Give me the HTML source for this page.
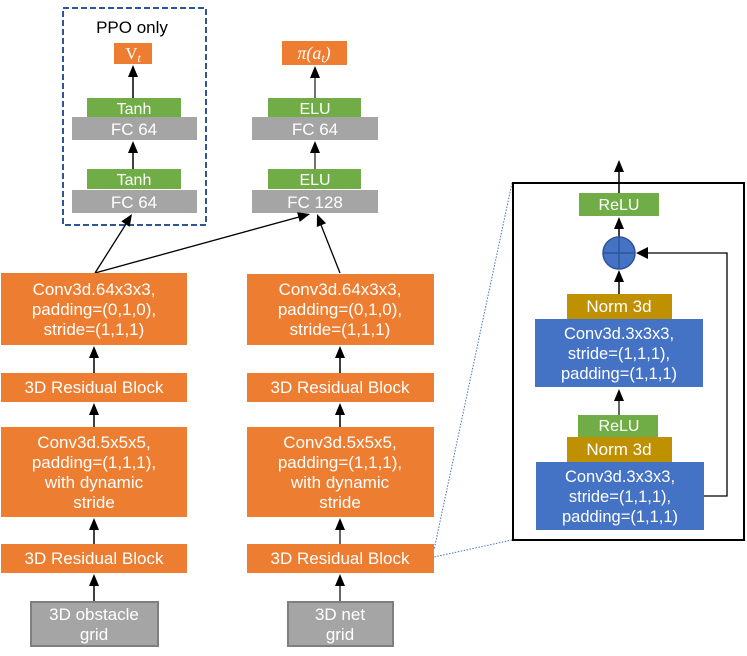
<!DOCTYPE html>
<html><head><meta charset="utf-8"><style>
html,body{margin:0;padding:0;background:#fff;}
svg{display:block;}
text{font-family:"Liberation Sans","DejaVu Sans",sans-serif;fill:#fff;text-anchor:middle;}
</style></head><body>
<svg width="747" height="656" viewBox="0 0 747 656" xmlns="http://www.w3.org/2000/svg">

<!-- dashed PPO box -->
<rect x="63" y="8" width="143" height="217" fill="none" stroke="#2f5597" stroke-width="2" stroke-dasharray="6,3"/>
<text x="132" y="33" style="fill:#000;font-size:17px">PPO only</text>

<!-- Vt -->
<rect x="114" y="43" width="38" height="21" fill="#ed7d31"/>
<text x="133" y="59" style="font-size:17px;font-family:'Liberation Serif',serif">V<tspan font-style="italic" font-size="12" dy="3">t</tspan></text>
<line x1="133" y1="98" x2="133" y2="75" stroke="#000" stroke-width="1.5"/>
<polygon points="133,65 128,77 138,77" fill="#000"/>
<rect x="87" y="98" width="94" height="19" fill="#70ad47"/>
<text x="134" y="114" style="font-size:16px">Tanh</text>
<rect x="72" y="117" width="125" height="23" fill="#a5a5a5"/>
<text x="134" y="135" style="font-size:17px">FC 64</text>
<line x1="133" y1="169" x2="133" y2="150" stroke="#000" stroke-width="1.5"/>
<polygon points="133,141 128,153 138,153" fill="#000"/>
<rect x="87" y="169" width="94" height="20" fill="#70ad47"/>
<text x="134" y="185" style="font-size:16px">Tanh</text>
<rect x="72" y="190" width="125" height="23" fill="#a5a5a5"/>
<text x="134" y="208" style="font-size:17px">FC 64</text>

<!-- pi -->
<rect x="282" y="41" width="65" height="24" fill="#ed7d31"/>
<text x="314" y="59" style="font-size:18px;font-family:'Liberation Serif',serif;font-style:italic">π(a<tspan font-size="12" dy="3">t</tspan><tspan dy="-3">)</tspan></text>
<line x1="315" y1="98" x2="315" y2="75" stroke="#444" stroke-width="1.5"/>
<polygon points="315,66 310,78 320,78" fill="#000"/>
<rect x="268" y="98" width="93" height="19" fill="#70ad47"/>
<text x="315" y="114" style="font-size:16px">ELU</text>
<rect x="252" y="117" width="126" height="23" fill="#a5a5a5"/>
<text x="315" y="135" style="font-size:17px">FC 64</text>
<line x1="315" y1="169" x2="315" y2="150" stroke="#444" stroke-width="1.5"/>
<polygon points="315,141 310,153 320,153" fill="#000"/>
<rect x="268" y="169" width="93" height="20" fill="#70ad47"/>
<text x="315" y="185" style="font-size:16px">ELU</text>
<rect x="252" y="190" width="126" height="23" fill="#a5a5a5"/>
<text x="315" y="208" style="font-size:17px">FC 128</text>

<!-- connectors from conv to FC -->
<line x1="95" y1="273" x2="126" y2="224" stroke="#000" stroke-width="1.3"/>
<polygon points="132,214 129.7,226.8 121.3,221.4" fill="#000"/>
<line x1="95" y1="273" x2="299" y2="217" stroke="#000" stroke-width="1.3"/>
<polygon points="310,214 299.7,221.9 297.1,212.3" fill="#000"/>
<line x1="340" y1="273" x2="321" y2="225" stroke="#000" stroke-width="1.3"/>
<polygon points="317,214 326.1,223.3 316.8,227" fill="#000"/>

<!-- left column -->
<g>
<rect x="1" y="273" width="186" height="72" fill="#ed7d31"/>
<text x="94" y="295" style="font-size:17px">Conv3d.64x3x3,</text>
<text x="94" y="315" style="font-size:17px">padding=(0,1,0),</text>
<text x="94" y="335" style="font-size:17px">stride=(1,1,1)</text>
<line x1="94" y1="373" x2="94" y2="355" stroke="#000" stroke-width="1.5"/>
<polygon points="94,346 89,358 99,358" fill="#000"/>
<rect x="1" y="373" width="186" height="29" fill="#ed7d31"/>
<text x="94" y="393" style="font-size:17px">3D Residual Block</text>
<line x1="94" y1="427" x2="94" y2="412" stroke="#000" stroke-width="1.5"/>
<polygon points="94,403 89,415 99,415" fill="#000"/>
<rect x="1" y="427" width="186" height="90" fill="#ed7d31"/>
<text x="94" y="448" style="font-size:17px">Conv3d.5x5x5,</text>
<text x="94" y="468" style="font-size:17px">padding=(1,1,1),</text>
<text x="94" y="488" style="font-size:17px">with dynamic</text>
<text x="94" y="508" style="font-size:17px">stride</text>
<line x1="94" y1="544" x2="94" y2="527" stroke="#000" stroke-width="1.5"/>
<polygon points="94,518 89,530 99,530" fill="#000"/>
<rect x="1" y="544" width="186" height="29" fill="#ed7d31"/>
<text x="94" y="564" style="font-size:17px">3D Residual Block</text>
<line x1="94" y1="601" x2="94" y2="583" stroke="#000" stroke-width="1.5"/>
<polygon points="94,574 89,586 99,586" fill="#000"/>
<rect x="31" y="602" width="127" height="44" fill="#a5a5a5" stroke="#7f7f7f" stroke-width="2"/>
<text x="94" y="620" style="font-size:17px">3D obstacle</text>
<text x="94" y="640" style="font-size:17px">grid</text>
</g>

<!-- right column -->
<g>
<rect x="247" y="274" width="187" height="71" fill="#ed7d31"/>
<text x="340" y="295" style="font-size:17px">Conv3d.64x3x3,</text>
<text x="340" y="315" style="font-size:17px">padding=(0,1,0),</text>
<text x="340" y="335" style="font-size:17px">stride=(1,1,1)</text>
<line x1="340" y1="373" x2="340" y2="355" stroke="#000" stroke-width="1.5"/>
<polygon points="340,346 335,358 345,358" fill="#000"/>
<rect x="247" y="373" width="187" height="29" fill="#ed7d31"/>
<text x="340" y="393" style="font-size:17px">3D Residual Block</text>
<line x1="340" y1="427" x2="340" y2="412" stroke="#000" stroke-width="1.5"/>
<polygon points="340,403 335,415 345,415" fill="#000"/>
<rect x="247" y="427" width="187" height="90" fill="#ed7d31"/>
<text x="340" y="448" style="font-size:17px">Conv3d.5x5x5,</text>
<text x="340" y="468" style="font-size:17px">padding=(1,1,1),</text>
<text x="340" y="488" style="font-size:17px">with dynamic</text>
<text x="340" y="508" style="font-size:17px">stride</text>
<line x1="340" y1="544" x2="340" y2="527" stroke="#333" stroke-width="1.5"/>
<polygon points="340,518 335,530 345,530" fill="#000"/>
<rect x="247" y="544" width="187" height="29" fill="#ed7d31"/>
<text x="340" y="564" style="font-size:17px">3D Residual Block</text>
<line x1="340" y1="601" x2="340" y2="583" stroke="#333" stroke-width="1.5"/>
<polygon points="340,574 335,586 345,586" fill="#000"/>
<rect x="288" y="602" width="105" height="44" fill="#a5a5a5" stroke="#7f7f7f" stroke-width="2"/>
<text x="340" y="620" style="font-size:17px">3D net</text>
<text x="340" y="640" style="font-size:17px">grid</text>
</g>

<!-- dotted zoom lines -->
<line x1="512" y1="183" x2="434" y2="550" stroke="#4472c4" stroke-width="1" stroke-dasharray="1.5,1.5"/>
<line x1="512" y1="540" x2="434" y2="557" stroke="#4472c4" stroke-width="1" stroke-dasharray="1.5,1.5"/>

<!-- residual block detail -->
<rect x="513" y="183" width="231" height="357" fill="#fff" stroke="#000" stroke-width="2"/>
<line x1="619" y1="193" x2="619" y2="170" stroke="#000" stroke-width="1.5"/>
<polygon points="619,160 614,172 624,172" fill="#000"/>
<rect x="579" y="193" width="80" height="23" fill="#70ad47"/>
<text x="619" y="210" style="font-size:16px">ReLU</text>
<line x1="619" y1="237" x2="619" y2="226" stroke="#000" stroke-width="1.5"/>
<polygon points="619,217 614,229 624,229" fill="#000"/>
<circle cx="619" cy="253" r="16" fill="#4472c4" stroke="#2f5597" stroke-width="1.5"/>
<line x1="603" y1="253" x2="635" y2="253" stroke="#2f5597" stroke-width="1.5"/>
<line x1="619" y1="237" x2="619" y2="269" stroke="#2f5597" stroke-width="1.5"/>
<line x1="619" y1="294" x2="619" y2="280" stroke="#000" stroke-width="1.5"/>
<polygon points="619,270 614,282 624,282" fill="#000"/>
<rect x="567" y="294" width="105" height="25" fill="#bf9000"/>
<text x="619" y="312" style="font-size:17px">Norm 3d</text>
<rect x="535" y="319" width="168" height="68" fill="#4472c4"/>
<text x="619" y="339" style="font-size:16.5px">Conv3d.3x3x3,</text>
<text x="619" y="359" style="font-size:16.5px">stride=(1,1,1),</text>
<text x="619" y="379" style="font-size:16.5px">padding=(1,1,1)</text>
<line x1="619" y1="415" x2="619" y2="398" stroke="#333" stroke-width="1.5"/>
<polygon points="619,389 614,401 624,401" fill="#000"/>
<rect x="578" y="415" width="80" height="22" fill="#70ad47"/>
<text x="619" y="431" style="font-size:16px">ReLU</text>
<rect x="567" y="437" width="105" height="25" fill="#bf9000"/>
<text x="619" y="455" style="font-size:17px">Norm 3d</text>
<rect x="536" y="462" width="168" height="68" fill="#4472c4"/>
<text x="620" y="482" style="font-size:16.5px">Conv3d.3x3x3,</text>
<text x="620" y="502" style="font-size:16.5px">stride=(1,1,1),</text>
<text x="620" y="522" style="font-size:16.5px">padding=(1,1,1)</text>
<polyline points="704,496 727,496 727,253 646,253" fill="none" stroke="#000" stroke-width="1.3"/>
<polygon points="636,253 648,247 648,259" fill="#000"/>
</svg>
</body></html>
